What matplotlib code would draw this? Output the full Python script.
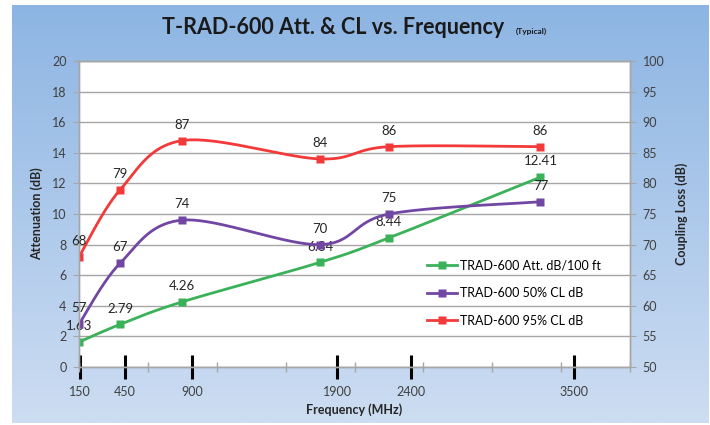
import numpy as np
import matplotlib.pyplot as plt
from matplotlib.lines import Line2D

plt.rcParams['font.family'] = ['Lato', 'DejaVu Sans']

freq = [150, 450, 900, 1900, 2400, 3500]
att = [1.63, 2.79, 4.26, 6.84, 8.44, 12.41]
cl50 = [57, 67, 74, 70, 75, 77]
cl95 = [68, 79, 87, 84, 86, 86]

att_labels = ['1.63', '2.79', '4.26', '6.84', '8.44', '12.41']
tick_labels = ['150', '450', '900', '1900', '2400', '3500']
# the bold tick bars in the original were placed by hand, a bit off the data
tick_pos = [157, 483, 970, 2025, 2562, 3742]

names = ['TRAD-600 Att. dB/100 ft', 'TRAD-600 50% CL dB', 'TRAD-600 95% CL dB']
colors = ['#3BB15A', '#7247A3', '#F23A3A']


def smooth(x, y, n=40):
    # bezier smoothing like the spreadsheet "smoothed line" option
    pts = np.column_stack([x, y]).astype(float)
    out = [pts[0]]
    t = np.linspace(0, 1, n)[1:, None]
    for i in range(len(pts) - 1):
        p0 = pts[max(i - 1, 0)]
        p1 = pts[i]
        p2 = pts[i + 1]
        p3 = pts[min(i + 2, len(pts) - 1)]
        c1 = p1 + (p2 - p0) / 6
        c2 = p2 - (p3 - p1) / 6
        seg = (1 - t)**3 * p1 + 3 * (1 - t)**2 * t * c1 + 3 * (1 - t) * t**2 * c2 + t**3 * p2
        out.extend(seg)
    out = np.array(out)
    return out[:, 0], out[:, 1]


fig = plt.figure(figsize=(7.1, 4.25), dpi=100)
fig.patch.set_facecolor('white')

# blue gradient panel behind the chart
bg = fig.add_axes([12 / 710, 2 / 425, 697 / 710, 418 / 425], zorder=0)
top = np.array([141, 181, 227]) / 255
bot = np.array([205, 221, 242]) / 255
g = np.linspace(0, 1, 200)[:, None]
grad = (top * (1 - g) + bot * g)[:, None, :]
bg.imshow(grad, aspect='auto', extent=[0, 1, 0, 1])
bg.axis('off')

ax = fig.add_axes([79 / 710, 1 - 367 / 425, 551 / 710, 306 / 425], zorder=1)
ax.set_facecolor('white')
ax2 = ax.twinx()

ax.set_xlim(150, 4150)
ax.set_ylim(0, 20)
ax2.set_ylim(50, 100)

ax.set_yticks(range(0, 21, 2))
ax2.set_yticks(range(50, 101, 5))
ax.grid(axis='y', color='#A6A6A6', lw=1)
ax.set_axisbelow(True)

ax.set_xticks(tick_pos)
ax.set_xticklabels(tick_labels)
ax.set_xticks(np.arange(150, 4151, 500), minor=True)
ax.tick_params(axis='x', which='major', direction='inout', length=17, width=2.2,
               color='black', labelsize=9, labelcolor='#404040', pad=5)
ax.tick_params(axis='x', which='minor', direction='inout', length=7, width=1,
               color='#A6A6A6')
ax.tick_params(axis='y', direction='out', length=4, color='#A6A6A6',
               labelsize=9, labelcolor='#404040', pad=5)
ax2.tick_params(axis='y', direction='out', length=4, color='#A6A6A6',
                labelsize=9, labelcolor='#404040', pad=5)

for a in (ax, ax2):
    for s in a.spines.values():
        s.set_color('#A6A6A6')
        s.set_linewidth(1)

sx, sy = smooth(freq, att)
ax.plot(sx, sy, color=colors[0], lw=2)
ax.plot(freq, att, 's', color=colors[0], ms=5.5, mec='none')
for f, v, lab in zip(freq, att, att_labels):
    ax.annotate(lab, (f, v), xytext=(0, 7), textcoords='offset points',
                ha='center', va='bottom', fontsize=9.5, color='#262626')

for vals, c in [(cl50, colors[1]), (cl95, colors[2])]:
    sx, sy = smooth(freq, vals)
    ax2.plot(sx, sy, color=c, lw=2)
    ax2.plot(freq, vals, 's', color=c, ms=5.5, mec='none')
    for f, v in zip(freq, vals):
        ax2.annotate(str(v), (f, v), xytext=(0, 7), textcoords='offset points',
                     ha='center', va='bottom', fontsize=9.5, color='#262626')

ax.set_ylabel('Attenuation (dB)', fontsize=9, fontweight='bold', color='#262626', labelpad=6)
ax2.set_ylabel('Coupling Loss (dB)', fontsize=9, fontweight='bold', color='#262626', labelpad=8)
ax.set_xlabel('Frequency (MHz)', fontsize=9, fontweight='bold', color='#262626', labelpad=4)

handles = [Line2D([], [], color=c, lw=2, marker='s', ms=5.5, mec='none') for c in colors]
ax2.legend(handles, names, loc='upper left', bbox_to_anchor=(0.632, 0.352),
           frameon=False, fontsize=9, handlelength=2.4, handletextpad=0.2,
           labelspacing=1.25, borderpad=0, borderaxespad=0)

fig.text(504 / 710, 1 - 34 / 425, 'T-RAD-600 Att. & CL vs. Frequency', ha='right',
         va='baseline', fontsize=15.5, fontweight='bold', color='#1a1a1a')
fig.text(516 / 710, 1 - 34 / 425, '(Typical)', ha='left', va='baseline',
         fontsize=6, fontweight='bold', color='#1a1a1a')

fig.savefig('out.png', dpi=100)
